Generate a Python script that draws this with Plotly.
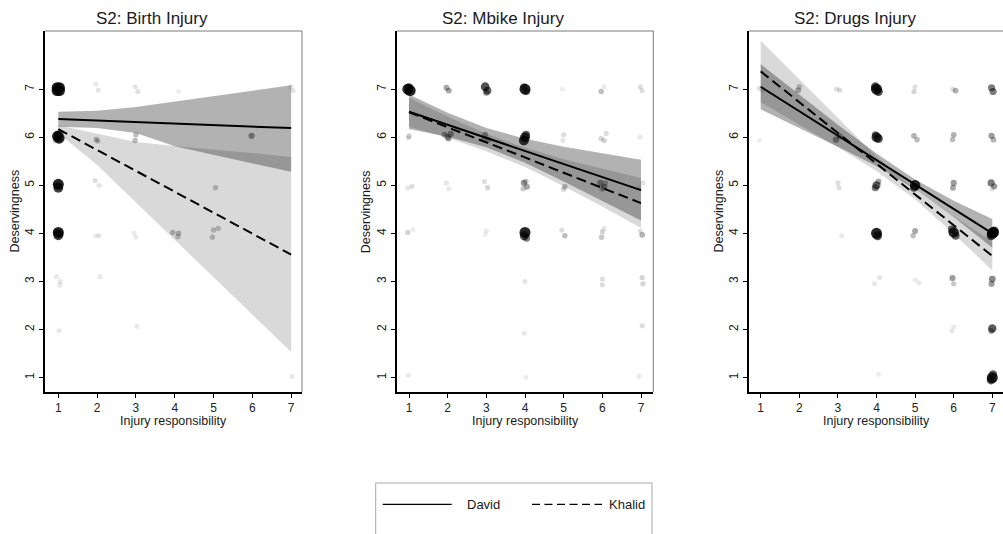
import plotly.graph_objects as go

# ---------------- data ----------------
panel_titles = ["S2: Birth Injury", "S2: Mbike Injury", "S2: Drugs Injury"]
x_title = "Injury responsibility"
y_title = "Deservingness"
ticks = [1, 2, 3, 4, 5, 6, 7]
groups = ["David", "Khalid"]

fit_x = [1, 2, 3, 4, 5, 6, 7]

# Birth injury fits
birth_david = [6.38, 6.35, 6.32, 6.28, 6.25, 6.22, 6.19]
birth_david_hi = [6.53, 6.55, 6.63, 6.74, 6.85, 6.96, 7.08]
birth_david_lo = [6.22, 6.19, 6.09, 5.81, 5.64, 5.46, 5.28]
birth_khalid = [6.17, 5.735, 5.30, 4.865, 4.43, 3.995, 3.56]
birth_khalid_hi = [6.25, 6.08, 5.90, 5.82, 5.75, 5.67, 5.59]
birth_khalid_lo = [6.09, 5.42, 4.65, 3.87, 3.09, 2.31, 1.53]

# Mbike injury fits
mbike_david = [6.53, 6.26, 5.99, 5.72, 5.44, 5.17, 4.90]
mbike_david_hi = [6.89, 6.51, 6.19, 5.97, 5.80, 5.66, 5.53]
mbike_david_lo = [6.17, 6.01, 5.79, 5.47, 5.08, 4.68, 4.27]
mbike_khalid = [6.52, 6.21, 5.89, 5.58, 5.26, 4.95, 4.63]
mbike_khalid_hi = [6.82, 6.43, 6.07, 5.78, 5.54, 5.34, 5.15]
mbike_khalid_lo = [6.22, 5.99, 5.71, 5.38, 4.98, 4.56, 4.11]

# Drugs injury fits
drugs_david = [7.05, 6.54, 6.03, 5.53, 5.02, 4.51, 4.00]
drugs_david_hi = [7.52, 6.89, 6.26, 5.66, 5.12, 4.68, 4.30]
drugs_david_lo = [6.58, 6.19, 5.80, 5.40, 4.92, 4.34, 3.70]
drugs_khalid = [7.37, 6.73, 6.09, 5.45, 4.81, 4.17, 3.53]
drugs_khalid_hi = [8.01, 7.20, 6.39, 5.60, 4.91, 4.35, 3.83]
drugs_khalid_lo = [6.73, 6.26, 5.79, 5.30, 4.71, 3.99, 3.23]

# jittered responses: (responsibility, deservingness, density of overlapping dots 0..1)
birth_points = [
    (0.97, 6.97, 1), (1.03, 7.03, 1), (0.97, 7.03, 1), (1.03, 6.97, 1),
    (0.98, 6.02, 1), (1.02, 5.98, 1), (1.0, 6.05, 0.8), (0.93, 5.93, 0.3), (1.08, 6.08, 0.3),
    (1.0, 5.02, 1), (1.0, 4.95, 0.9), (0.97, 5.0, 0.5),
    (1.0, 4.02, 1), (1.0, 3.96, 0.9), (0.96, 4.03, 0.5), (1.05, 4.0, 0.5),
    (0.95, 3.1, 0.1), (1.05, 3.0, 0.12), (1.04, 2.92, 0.1), (1.02, 1.98, 0.1),
    (1.97, 7.1, 0.1), (2.03, 6.98, 0.12), (1.98, 5.95, 0.3), (2.02, 5.92, 0.25),
    (1.95, 5.1, 0.15), (2.05, 5.0, 0.12), (1.97, 3.95, 0.1), (2.05, 3.95, 0.12), (2.07, 3.1, 0.1),
    (2.98, 7.05, 0.12), (3.05, 6.95, 0.15), (3.0, 6.05, 0.3), (2.98, 5.93, 0.3),
    (2.95, 4.0, 0.1), (3.0, 3.92, 0.1), (3.02, 2.07, 0.1),
    (4.1, 6.95, 0.08), (3.95, 4.02, 0.3), (4.1, 4.0, 0.3), (4.08, 3.93, 0.25),
    (5.05, 4.95, 0.25), (5.0, 4.07, 0.25), (5.12, 4.1, 0.25), (4.97, 3.92, 0.25),
    (5.98, 6.03, 0.45),
    (7.0, 7.05, 0.12), (7.05, 6.97, 0.12), (7.03, 1.02, 0.1),
]
mbike_points = [
    (0.97, 7.0, 1), (1.03, 6.97, 1), (1.0, 7.03, 0.8),
    (1.0, 6.02, 0.25), (0.98, 5.98, 0.1), (0.97, 4.95, 0.12), (1.08, 4.98, 0.15),
    (0.97, 4.02, 0.2), (1.1, 4.08, 0.08), (0.98, 1.05, 0.1),
    (1.97, 7.03, 0.4), (2.03, 6.97, 0.4),
    (1.92, 6.05, 0.4), (2.0, 6.0, 0.45), (2.08, 6.07, 0.45), (2.03, 5.97, 0.35),
    (1.97, 5.05, 0.12), (2.03, 4.93, 0.1),
    (2.97, 7.05, 0.8), (3.03, 6.97, 0.7), (3.0, 6.93, 0.5),
    (2.97, 6.05, 0.4), (3.05, 5.95, 0.35), (2.93, 5.95, 0.3),
    (2.95, 5.08, 0.15), (3.03, 4.95, 0.2), (3.0, 4.05, 0.1), (2.97, 3.97, 0.08),
    (4.0, 7.0, 1), (3.97, 7.05, 0.6), (4.04, 6.95, 0.6),
    (4.0, 6.0, 0.9), (3.97, 5.93, 0.9), (4.03, 6.05, 0.7),
    (3.97, 5.05, 0.45), (4.05, 4.97, 0.4), (3.95, 4.93, 0.25), (4.02, 5.08, 0.3),
    (4.0, 4.02, 1), (3.98, 3.95, 0.8), (4.04, 3.9, 0.6),
    (4.0, 3.0, 0.12), (3.98, 1.92, 0.1), (4.02, 1.0, 0.08),
    (4.97, 7.0, 0.08), (5.0, 6.05, 0.15), (4.98, 5.93, 0.12), (5.03, 4.97, 0.3),
    (5.0, 4.92, 0.2), (4.95, 4.07, 0.15), (5.03, 3.95, 0.3),
    (5.97, 6.95, 0.3), (6.05, 7.05, 0.1), (5.97, 5.97, 0.2), (6.05, 5.93, 0.2), (6.1, 6.08, 0.15),
    (5.95, 5.05, 0.45), (6.05, 4.97, 0.45), (6.0, 4.93, 0.35), (6.08, 5.05, 0.3),
    (6.0, 4.03, 0.2), (5.98, 3.92, 0.25), (6.05, 4.1, 0.12), (6.0, 3.05, 0.15), (6.0, 2.93, 0.15),
    (6.98, 7.05, 0.15), (7.03, 6.97, 0.15), (6.97, 6.0, 0.1), (7.05, 5.05, 0.12), (6.97, 4.95, 0.1),
    (7.03, 3.97, 0.35), (6.98, 4.05, 0.15), (7.03, 3.08, 0.2), (7.05, 2.95, 0.2),
    (7.03, 2.08, 0.15), (6.95, 1.03, 0.1),
]
drugs_points = [
    (0.97, 7.02, 0.15), (1.05, 6.97, 0.12), (0.97, 5.93, 0.08),
    (1.97, 6.98, 0.35), (2.0, 7.05, 0.25),
    (2.97, 7.0, 0.15), (3.05, 6.98, 0.15), (2.95, 5.95, 0.45), (3.05, 6.02, 0.4),
    (3.0, 5.05, 0.15), (3.03, 4.95, 0.15), (3.1, 3.95, 0.1),
    (4.0, 7.0, 1), (3.97, 7.05, 0.8), (4.05, 6.95, 0.8),
    (4.0, 6.0, 0.9), (4.05, 5.97, 0.8), (3.97, 6.05, 0.6),
    (4.0, 5.0, 0.7), (3.97, 4.95, 0.6), (4.05, 5.08, 0.4),
    (4.0, 4.0, 1), (4.03, 3.95, 0.8),
    (4.08, 3.08, 0.12), (3.95, 2.95, 0.1), (4.05, 1.07, 0.08),
    (5.0, 7.05, 0.15), (4.97, 6.95, 0.2), (4.97, 6.03, 0.35), (5.05, 5.95, 0.3),
    (5.0, 5.0, 0.95), (4.97, 4.95, 0.7), (5.0, 4.05, 0.4), (4.95, 3.95, 0.3),
    (5.0, 3.03, 0.1), (5.1, 2.97, 0.1),
    (6.05, 6.97, 0.35), (5.98, 7.0, 0.15), (6.0, 6.05, 0.35), (5.97, 5.95, 0.3),
    (6.0, 5.05, 0.45), (5.98, 4.95, 0.4),
    (6.0, 4.02, 0.95), (5.95, 4.08, 0.7), (6.05, 3.95, 0.7),
    (5.97, 3.07, 0.45), (6.0, 2.95, 0.25), (6.0, 2.05, 0.1), (5.95, 1.97, 0.1),
    (6.98, 7.03, 0.6), (7.02, 6.95, 0.6), (6.98, 6.03, 0.45), (7.03, 5.95, 0.35),
    (6.97, 5.05, 0.6), (7.05, 4.98, 0.45), (7.0, 4.93, 0.15),
    (7.0, 4.0, 1), (6.97, 3.95, 0.8), (7.05, 4.05, 0.8), (7.03, 4.02, 1),
    (7.0, 3.05, 0.55), (6.98, 2.95, 0.45),
    (7.0, 2.02, 0.75), (6.97, 1.97, 0.4),
    (7.0, 1.0, 1), (6.97, 0.95, 0.8), (7.02, 1.07, 0.7),
]

# ---------------- figure ----------------
FONT = "Arial, Liberation Sans, Helvetica, sans-serif"
W, H = 1003, 534

panels = [
    dict(title=panel_titles[0], pts=birth_points,
         dv=birth_david, dh=birth_david_hi, dl=birth_david_lo,
         kv=birth_khalid, kh=birth_khalid_hi, kl=birth_khalid_lo,
         dom=(45, 302), xr=(0.657, 7.28), tcx=151.7, mirror_right=True),
    dict(title=panel_titles[1], pts=mbike_points,
         dv=mbike_david, dh=mbike_david_hi, dl=mbike_david_lo,
         kv=mbike_khalid, kh=mbike_khalid_hi, kl=mbike_khalid_lo,
         dom=(396.7, 653.3), xr=(0.682, 7.318), tcx=503, mirror_right=True),
    dict(title=panel_titles[2], pts=drugs_points,
         dv=drugs_david, dh=drugs_david_hi, dl=drugs_david_lo,
         kv=drugs_khalid, kh=drugs_khalid_hi, kl=drugs_khalid_lo,
         dom=(749, 1003), xr=(0.697, 7.277), tcx=855, mirror_right=False),
]

top_px, bot_px = 31, 392
y_dom = [(H - bot_px) / H, (H - top_px) / H]
y_range = [0.70, 8.21]

fig = go.Figure()
shapes = []
annotations = []
layout_axes = {}

for i, p in enumerate(panels):
    sfx = "" if i == 0 else str(i + 1)
    xa, ya = "x" + sfx, "y" + sfx

    # confidence bands
    for hi, lo, col, name in [(p["kh"], p["kl"], "rgba(0,0,0,0.15)", groups[1]),
                              (p["dh"], p["dl"], "rgba(0,0,0,0.30)", groups[0])]:
        fig.add_trace(go.Scatter(
            x=fit_x + fit_x[::-1], y=hi + lo[::-1], fill="toself",
            fillcolor=col, line=dict(width=0), mode="lines",
            hoverinfo="skip", showlegend=False, name=name + " CI",
            xaxis=xa, yaxis=ya))

    # jittered points
    px = [t[0] for t in p["pts"]]
    py = [t[1] for t in p["pts"]]
    pd_ = [t[2] for t in p["pts"]]
    fig.add_trace(go.Scatter(
        x=px, y=py, mode="markers",
        marker=dict(color="black", opacity=[0.85 * d for d in pd_],
                    size=[5 + 6 * d * d for d in pd_], line=dict(width=0)),
        showlegend=False, hoverinfo="skip", xaxis=xa, yaxis=ya))

    # fitted lines
    fig.add_trace(go.Scatter(x=fit_x, y=p["dv"], mode="lines", name=groups[0],
                             line=dict(color="black", width=2),
                             showlegend=False, xaxis=xa, yaxis=ya))
    fig.add_trace(go.Scatter(x=fit_x, y=p["kv"], mode="lines", name=groups[1],
                             line=dict(color="black", width=2, dash="10px,5px"),
                             showlegend=False, xaxis=xa, yaxis=ya))

    x0, x1 = p["dom"]
    layout_axes["xaxis" + sfx] = dict(
        domain=[x0 / W, x1 / W], range=list(p["xr"]), anchor=ya,
        tickmode="array", tickvals=ticks, ticktext=[str(t) for t in ticks],
        ticks="outside", ticklen=4, tickwidth=1, tickcolor="black",
        showline=True, linecolor="black", linewidth=1.5,
        showgrid=False, zeroline=False, automargin=False,
        tickfont=dict(family=FONT, size=12, color="#222"))
    layout_axes["yaxis" + sfx] = dict(
        domain=y_dom, range=y_range, anchor=xa,
        tickmode="array", tickvals=ticks, ticktext=[str(t) for t in ticks],
        ticks="outside", ticklen=4, tickwidth=1, tickcolor="black",
        tickangle=-90,
        showline=True, linecolor="black", linewidth=1.5,
        showgrid=False, zeroline=False, automargin=False,
        tickfont=dict(family=FONT, size=12, color="#222"))

    # top / right frame lines (thin gray)
    shapes.append(dict(type="line", xref=xa + " domain", yref=ya + " domain",
                       x0=0, x1=1, y0=1, y1=1, line=dict(color="#7a7a7a", width=1)))
    if p["mirror_right"]:
        shapes.append(dict(type="line", xref=xa + " domain", yref=ya + " domain",
                           x0=1, x1=1, y0=0, y1=1, line=dict(color="#7a7a7a", width=1)))

    # panel title
    annotations.append(dict(text=p["title"], x=p["tcx"] / W, y=(H - 19) / H,
                            xref="paper", yref="paper", showarrow=False,
                            xanchor="center", yanchor="middle",
                            font=dict(family=FONT, size=17, color="#1a1a1a")))
    # axis titles
    annotations.append(dict(text=x_title, x=(x0 + x1) / 2 / W, y=(H - 421) / H,
                            xref="paper", yref="paper", showarrow=False,
                            xanchor="center", yanchor="middle",
                            font=dict(family=FONT, size=12.5, color="#1a1a1a")))
    annotations.append(dict(text=y_title, x=(x0 - 31) / W, y=(H - 211.5) / H,
                            xref="paper", yref="paper", showarrow=False,
                            textangle=-90, xanchor="center", yanchor="middle",
                            font=dict(family=FONT, size=12.5, color="#1a1a1a")))

# legend box
shapes.append(dict(type="rect", xref="paper", yref="paper",
                   x0=375.7 / W, x1=652 / W, y0=-0.05, y1=(H - 483) / H,
                   line=dict(color="#a8a8a8", width=1), fillcolor="rgba(0,0,0,0)"))
ly = (H - 504.3) / H
shapes.append(dict(type="line", xref="paper", yref="paper",
                   x0=382.7 / W, x1=451.7 / W, y0=ly, y1=ly,
                   line=dict(color="black", width=1.3)))
shapes.append(dict(type="line", xref="paper", yref="paper",
                   x0=532 / W, x1=602 / W, y0=ly, y1=ly,
                   line=dict(color="black", width=1.3, dash="8px,4.5px")))
annotations.append(dict(text=groups[0], x=465 / W, y=ly, xref="paper", yref="paper",
                        showarrow=False, xanchor="left", yanchor="middle",
                        font=dict(family=FONT, size=13, color="#1a1a1a")))
annotations.append(dict(text=groups[1], x=607 / W, y=ly, xref="paper", yref="paper",
                        showarrow=False, xanchor="left", yanchor="middle",
                        font=dict(family=FONT, size=13, color="#1a1a1a")))

fig.update_layout(
    width=W, height=H,
    margin=dict(l=0, r=0, t=0, b=0, pad=0, autoexpand=False),
    paper_bgcolor="white", plot_bgcolor="white",
    showlegend=False,
    shapes=shapes, annotations=annotations,
    **layout_axes,
)

fig.write_html("out.html",
               config={"displayModeBar": False},
               post_script="document.body.style.margin='0px';"
                           "document.body.style.padding='0px';"
                           "document.body.style.overflow='hidden';")
